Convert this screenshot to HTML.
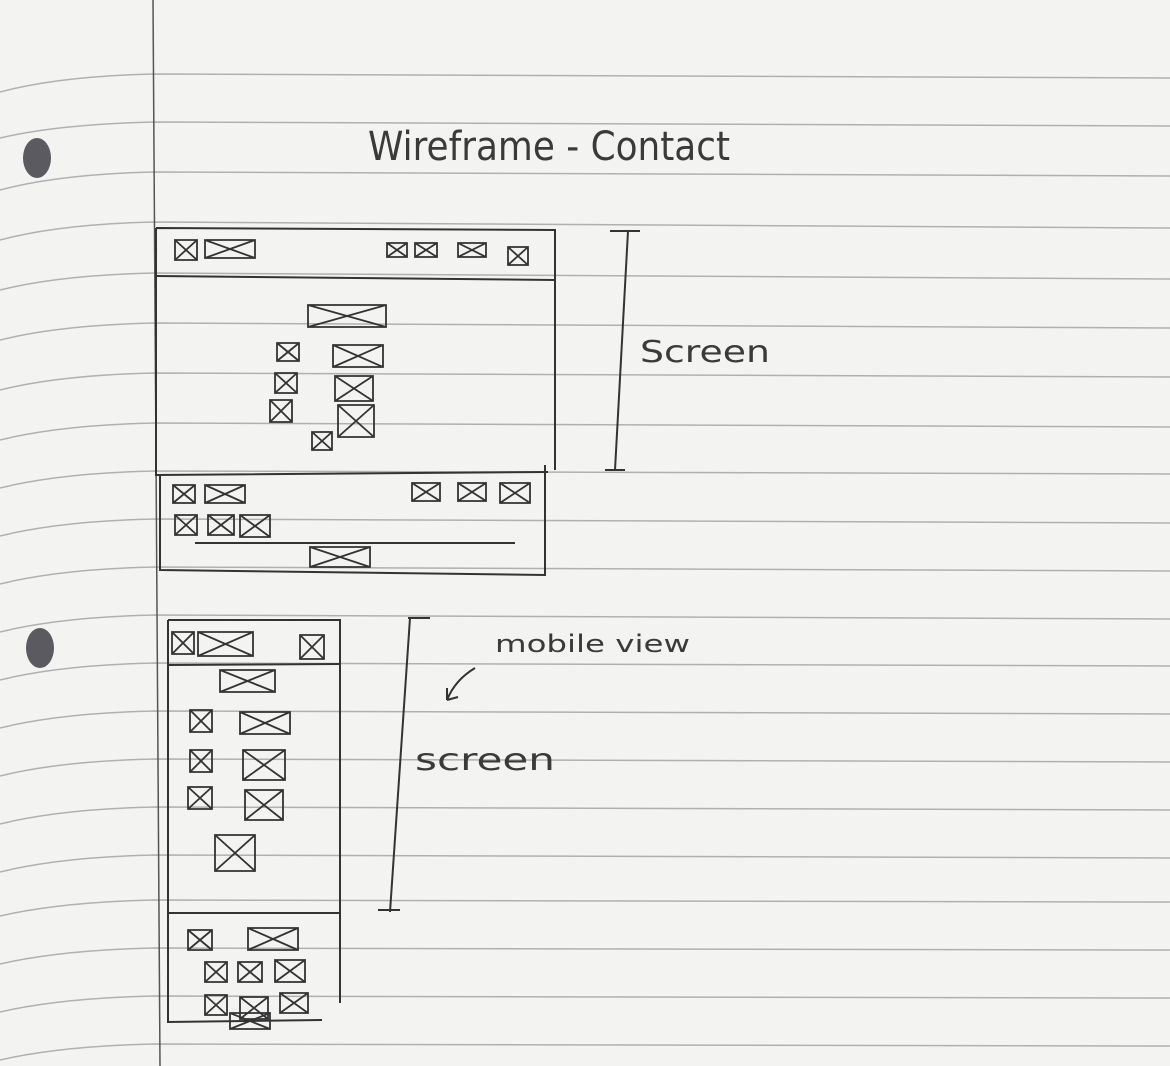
<!DOCTYPE html>
<html><head><meta charset="utf-8"><style>
html,body{margin:0;padding:0;background:#f3f3f1;}
svg{display:block}
text{font-family:"DejaVu Sans","Liberation Sans",sans-serif;fill:#3a3a3a}
</style></head><body>
<svg width="1170" height="1066" viewBox="0 0 1170 1066" xmlns="http://www.w3.org/2000/svg">
<rect width="1170" height="1066" fill="#f3f3f1"/>
<g stroke="#b0b0b2" stroke-width="1.5" fill="none">
<path d="M0 92 Q60 76 155 74 L1170 78"/>
<path d="M0 138 Q60 124 155 122 L1170 126"/>
<path d="M0 190 Q60 174 155 172 L1170 176"/>
<path d="M0 240 Q60 224 155 222 L1170 228"/>
<path d="M0 290 Q60 275 155 273 L1170 279"/>
<path d="M0 340 Q60 325 155 323 L1170 328"/>
<path d="M0 390 Q60 375 155 373 L1170 377"/>
<path d="M0 440 Q60 425 155 423 L1170 427"/>
<path d="M0 488 Q60 473 155 471 L1170 474"/>
<path d="M0 536 Q60 521 155 519 L1170 523"/>
<path d="M0 584 Q60 569 155 567 L1170 571"/>
<path d="M0 632 Q60 617 155 615 L1170 619"/>
<path d="M0 680 Q60 665 155 663 L1170 666"/>
<path d="M0 728 Q60 713 155 711 L1170 714"/>
<path d="M0 776 Q60 761 155 759 L1170 762"/>
<path d="M0 824 Q60 809 155 807 L1170 810"/>
<path d="M0 872 Q60 857 155 855 L1170 858"/>
<path d="M0 916 Q60 902 155 900 L1170 902"/>
<path d="M0 964 Q60 950 155 948 L1170 950"/>
<path d="M0 1012 Q60 998 155 996 L1170 998"/>
<path d="M0 1060 Q60 1046 155 1044 L1170 1046"/>
</g>
<line x1="153" y1="0" x2="160" y2="1066" stroke="#555" stroke-width="1.5"/>
<ellipse cx="37" cy="158" rx="14" ry="20" fill="#5a5a60"/>
<ellipse cx="40" cy="648" rx="14" ry="20" fill="#5a5a60"/>
<text x="368" y="160" font-size="40" textLength="362" lengthAdjust="spacingAndGlyphs">Wireframe - Contact</text>
<g stroke="#333" stroke-width="2" fill="none">
<path d="M156 228 L555 230 L555 470 M156 228 L156 475 L548 472"/>
<path d="M156 276 L555 280"/>
<path d="M160 475 L160 570 L545 575 L545 465"/>
<path d="M195 543 L515 543"/>
<path d="M610 231 L640 231 M628 231 L615 470 M605 470 L625 470"/>
<path d="M168 620 L340 620 L340 1003 M168 620 L168 1022 L322 1020"/>
<path d="M168 665 L340 664"/>
<path d="M168 913 L340 913"/>
<path d="M408 618 L430 618 M410 618 L390 912 M378 910 L400 910"/>
<path d="M475 668 Q455 680 447 700 M447 700 L447 688 M447 700 L458 697"/>
</g>
<g stroke="#333" stroke-width="1.8" fill="none">
<path d="M175 240h22v20h-22z M175 240l22 20 M197 240l-22 20"/>
<path d="M205 240h50v18h-50z M205 240l50 18 M255 240l-50 18"/>
<path d="M387 243h20v14h-20z M387 243l20 14 M407 243l-20 14"/>
<path d="M415 243h22v14h-22z M415 243l22 14 M437 243l-22 14"/>
<path d="M458 243h28v14h-28z M458 243l28 14 M486 243l-28 14"/>
<path d="M508 247h20v18h-20z M508 247l20 18 M528 247l-20 18"/>
<path d="M308 305h78v22h-78z M308 305l78 22 M386 305l-78 22"/>
<path d="M277 343h22v18h-22z M277 343l22 18 M299 343l-22 18"/>
<path d="M333 345h50v22h-50z M333 345l50 22 M383 345l-50 22"/>
<path d="M275 373h22v20h-22z M275 373l22 20 M297 373l-22 20"/>
<path d="M335 376h38v25h-38z M335 376l38 25 M373 376l-38 25"/>
<path d="M270 400h22v22h-22z M270 400l22 22 M292 400l-22 22"/>
<path d="M338 405h36v32h-36z M338 405l36 32 M374 405l-36 32"/>
<path d="M312 432h20v18h-20z M312 432l20 18 M332 432l-20 18"/>
<path d="M173 485h22v18h-22z M173 485l22 18 M195 485l-22 18"/>
<path d="M205 485h40v18h-40z M205 485l40 18 M245 485l-40 18"/>
<path d="M175 515h22v20h-22z M175 515l22 20 M197 515l-22 20"/>
<path d="M208 515h26v20h-26z M208 515l26 20 M234 515l-26 20"/>
<path d="M240 515h30v22h-30z M240 515l30 22 M270 515l-30 22"/>
<path d="M412 483h28v18h-28z M412 483l28 18 M440 483l-28 18"/>
<path d="M458 483h28v18h-28z M458 483l28 18 M486 483l-28 18"/>
<path d="M500 483h30v20h-30z M500 483l30 20 M530 483l-30 20"/>
<path d="M310 547h60v20h-60z M310 547l60 20 M370 547l-60 20"/>
<path d="M172 632h22v22h-22z M172 632l22 22 M194 632l-22 22"/>
<path d="M198 632h55v24h-55z M198 632l55 24 M253 632l-55 24"/>
<path d="M300 635h24v24h-24z M300 635l24 24 M324 635l-24 24"/>
<path d="M220 670h55v22h-55z M220 670l55 22 M275 670l-55 22"/>
<path d="M190 710h22v22h-22z M190 710l22 22 M212 710l-22 22"/>
<path d="M240 712h50v22h-50z M240 712l50 22 M290 712l-50 22"/>
<path d="M190 750h22v22h-22z M190 750l22 22 M212 750l-22 22"/>
<path d="M243 750h42v30h-42z M243 750l42 30 M285 750l-42 30"/>
<path d="M188 787h24v22h-24z M188 787l24 22 M212 787l-24 22"/>
<path d="M245 790h38v30h-38z M245 790l38 30 M283 790l-38 30"/>
<path d="M215 835h40v36h-40z M215 835l40 36 M255 835l-40 36"/>
<path d="M188 930h24v20h-24z M188 930l24 20 M212 930l-24 20"/>
<path d="M248 928h50v22h-50z M248 928l50 22 M298 928l-50 22"/>
<path d="M205 962h22v20h-22z M205 962l22 20 M227 962l-22 20"/>
<path d="M238 962h24v20h-24z M238 962l24 20 M262 962l-24 20"/>
<path d="M275 960h30v22h-30z M275 960l30 22 M305 960l-30 22"/>
<path d="M205 995h22v20h-22z M205 995l22 20 M227 995l-22 20"/>
<path d="M240 997h28v22h-28z M240 997l28 22 M268 997l-28 22"/>
<path d="M280 993h28v20h-28z M280 993l28 20 M308 993l-28 20"/>
<path d="M230 1013h40v16h-40z M230 1013l40 16 M270 1013l-40 16"/>
</g>
<text x="640" y="362" font-size="30" textLength="130" lengthAdjust="spacingAndGlyphs">Screen</text>
<text x="495" y="652" font-size="24" textLength="195" lengthAdjust="spacingAndGlyphs">mobile view</text>
<text x="415" y="770" font-size="30" textLength="140" lengthAdjust="spacingAndGlyphs">screen</text>
</svg>
</body></html>
